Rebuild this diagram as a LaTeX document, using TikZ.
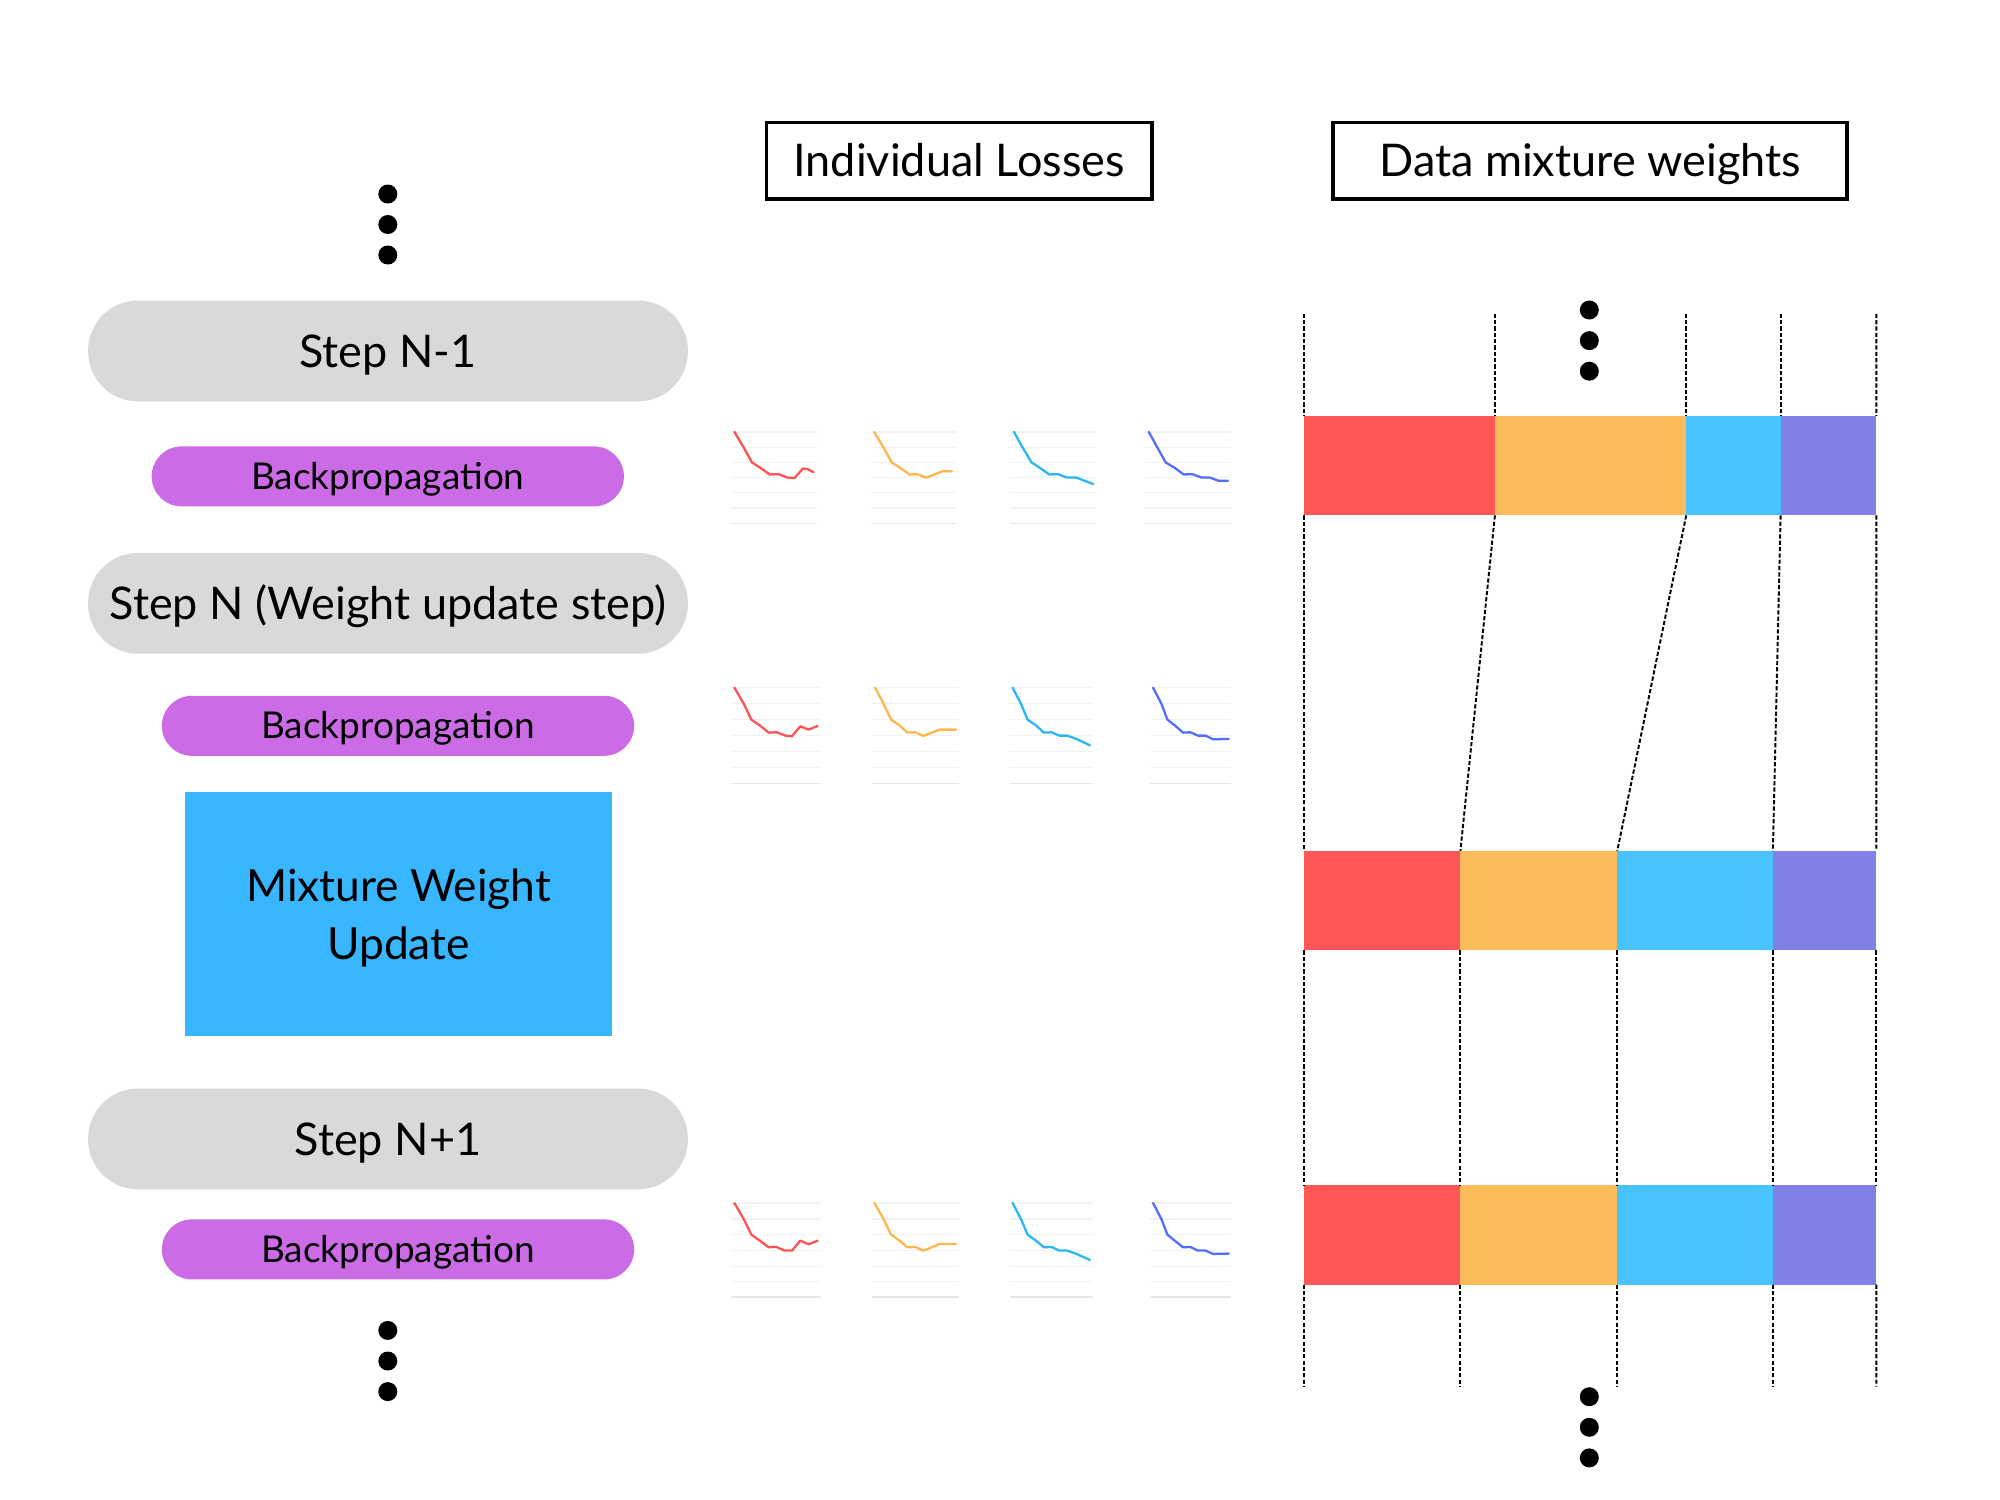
\documentclass[tikz,border=0pt]{standalone}
\usepackage{fontspec}
\setmainfont{Lato}
\definecolor{pillgray}{HTML}{D9D9D9}
\definecolor{bppurple}{HTML}{CB6CE6}
\definecolor{mixblue}{HTML}{38B6FF}
\definecolor{bred}{HTML}{FF5757}
\definecolor{borange}{HTML}{FDBB5A}
\definecolor{bcyan}{HTML}{48C3FF}
\definecolor{bpurple}{HTML}{8080E6}
\definecolor{lred}{HTML}{FF5252}
\definecolor{lorange}{HTML}{FFB74D}
\definecolor{lblue}{HTML}{29B6F6}
\definecolor{lindigo}{HTML}{536DFE}
\definecolor{gridc}{HTML}{F2F2F2}
\definecolor{gridb}{HTML}{E6E6E6}
\begin{document}
\begin{tikzpicture}[x=0.01cm,y=-0.01cm,
  pill/.style={rectangle, rounded corners=0.5cm, fill=pillgray, minimum width=5.995cm, minimum height=1.008cm, inner sep=0pt, font=\fontsize{12.8}{16}\selectfont, text height=9.2pt, text depth=0pt},
  bp/.style={rectangle, rounded corners=0.3cm, fill=bppurple, minimum width=4.72cm, minimum height=0.6cm, inner sep=0pt, font=\fontsize{10.5}{12}\selectfont, text height=7.5pt, text depth=0pt},
  titlebox/.style={rectangle, draw=black, line width=1pt, inner sep=0pt, font=\fontsize{12.8}{16}\selectfont, text height=9.2pt, text depth=0pt},
  mixbox/.style={rectangle, fill=mixblue, minimum width=4.27cm, minimum height=2.436cm, inner sep=0pt},
  mixtext/.style={inner sep=0pt, align=center, font=\fontsize{12.6}{16.4}\selectfont},
  seg/.style={rectangle, inner sep=0pt, outer sep=0pt, anchor=north west, minimum height=0.995cm},
  dotn/.style={circle, fill=black, inner sep=0pt, minimum size=0.19cm},
  dsh/.style={line width=0.55pt, dash pattern=on 1.2pt off 0.6pt},
  gridl/.style={gridc, line width=0.35pt},
  gridbot/.style={gridb, line width=0.45pt},
  lossl/.style={line width=0.65pt, line join=round, line cap=round}
]
\useasboundingbox (0,0) rectangle (2000,1500);

% titles
\node[titlebox, minimum width=3.852cm, minimum height=0.766cm] (tl) at (959.2,160.7) {Individual Losses};
\node[titlebox, minimum width=5.141cm, minimum height=0.766cm] (tw) at (1590,160.7) {Data mixture weights};

% left column
\node[dotn] (ld1) at (387.8,194) {};
\node[dotn] (ld2) at (387.8,224.5) {};
\node[dotn] (ld3) at (387.8,255) {};
\node[pill] (s1) at (388,351) {Step N-1};
\node[bp] (bp1) at (387.8,476.4) {Backpropagation};
\node[pill] (s2) at (388,603.3) {Step N (Weight update step)};
\node[bp] (bp2) at (398,725.8) {Backpropagation};
\node[mixbox] (mw) at (398.6,913.9) {};
\node[mixtext] (mwt) at ([yshift=-0.04cm]mw.center) {Mixture Weight\\Update};
\node[pill] (s3) at (388,1139) {Step N+1};
\node[bp] (bp3) at (398,1249.4) {Backpropagation};
\node[dotn] (ld4) at (387.8,1330.4) {};
\node[dotn] (ld5) at (387.8,1361) {};
\node[dotn] (ld6) at (387.8,1391.6) {};

% right dots
\node[dotn] (rd1) at (1589.3,310) {};
\node[dotn] (rd2) at (1589.3,340.6) {};
\node[dotn] (rd3) at (1589.3,371.2) {};
\node[dotn] (rd4) at (1589.3,1396.7) {};
\node[dotn] (rd5) at (1589.3,1427.3) {};
\node[dotn] (rd6) at (1589.3,1457.9) {};

% bars
\node[seg, fill=bred, minimum width=1.913cm] (b1a) at (1303.6,415.8) {};
\node[seg, fill=borange, minimum width=1.913cm] (b1b) at (1494.9,415.8) {};
\node[seg, fill=bcyan, minimum width=0.944cm] (b1c) at (1686.2,415.8) {};
\node[seg, fill=bpurple, minimum width=0.957cm] (b1d) at (1780.6,415.8) {};

\node[seg, fill=bred, minimum width=1.568cm] (b2a) at (1303.6,850.8) {};
\node[seg, fill=borange, minimum width=1.569cm] (b2b) at (1460.4,850.8) {};
\node[seg, fill=bcyan, minimum width=1.556cm] (b2c) at (1617.3,850.8) {};
\node[seg, fill=bpurple, minimum width=1.034cm] (b2d) at (1772.9,850.8) {};

\node[seg, fill=bred, minimum width=1.568cm] (b3a) at (1303.6,1185) {};
\node[seg, fill=borange, minimum width=1.569cm] (b3b) at (1460.4,1185) {};
\node[seg, fill=bcyan, minimum width=1.556cm] (b3c) at (1617.3,1185) {};
\node[seg, fill=bpurple, minimum width=1.034cm] (b3d) at (1772.9,1185) {};

% dashed guides
\coordinate (t1) at (1303.6,313.8);
\coordinate (t2) at (1494.9,313.8);
\coordinate (t3) at (1686.2,313.8);
\coordinate (t4) at (1780.6,313.8);
\coordinate (t5) at (1876.3,313.8);
\coordinate (u1) at (1303.6,1386.5);
\coordinate (u2) at (1460.4,1386.5);
\coordinate (u3) at (1617.3,1386.5);
\coordinate (u4) at (1772.9,1386.5);
\coordinate (u5) at (1876.3,1386.5);
\draw[dsh] (t1) -- (b1a.north west);
\draw[dsh] (t2) -- (b1b.north west);
\draw[dsh] (t3) -- (b1c.north west);
\draw[dsh] (t4) -- (b1d.north west);
\draw[dsh] (t5) -- (b1d.north east);
\draw[dsh] (b1a.south west) -- (b2a.north west);
\draw[dsh] (b1b.south west) -- (b2b.north west);
\draw[dsh] (b1c.south west) -- (b2c.north west);
\draw[dsh] (b1d.south west) -- (b2d.north west);
\draw[dsh] (b1d.south east) -- (b2d.north east);
\draw[dsh] (b2a.south west) -- (b3a.north west);
\draw[dsh] (b2b.south west) -- (b3b.north west);
\draw[dsh] (b2c.south west) -- (b3c.north west);
\draw[dsh] (b2d.south west) -- (b3d.north west);
\draw[dsh] (b2d.south east) -- (b3d.north east);
\draw[dsh] (b3a.south west) -- (u1);
\draw[dsh] (b3b.south west) -- (u2);
\draw[dsh] (b3c.south west) -- (u3);
\draw[dsh] (b3d.south west) -- (u4);
\draw[dsh] (b3d.south east) -- (u5);

% loss plots row 1
\begin{scope}[shift={(7.2cm,-4.2cm)}, x=0.0033333cm, y=-0.0033333cm]
  \foreach \g in {35,81,127,172,217,264} {
    \draw[gridl] (32,\g) -- (290,\g);
    \draw[gridl] (452,\g) -- (707,\g);
    \draw[gridl] (870,\g) -- (1130,\g);
    \draw[gridl] (1275,\g) -- (1535,\g);
  }
  \draw[gridbot] (32,310) -- (290,310);
  \draw[gridbot] (452,310) -- (707,310);
  \draw[gridbot] (870,310) -- (1130,310);
  \draw[gridbot] (1275,310) -- (1535,310);
  \draw[lossl, lred] (42,35)--(70,82)--(95,127)--(120,143)--(148,163)--(175,162)--(200,172)--(222,174)--(248,145)--(262,147)--(280,156);
  \draw[lossl, lorange] (462,35)--(490,82)--(515,127)--(540,143)--(568,163)--(592,162)--(618,173)--(645,162)--(668,153)--(695,153);
  \draw[lossl, lblue] (882,35)--(908,82)--(935,127)--(960,143)--(988,163)--(1015,162)--(1040,172)--(1068,172)--(1095,182)--(1120,192);
  \draw[lossl, lindigo] (1287,35)--(1313,82)--(1338,127)--(1365,143)--(1392,163)--(1418,162)--(1445,172)--(1470,172)--(1497,182)--(1525,182);
\end{scope}

% loss plots row 2
\begin{scope}[shift={(7.2cm,-6.7cm)}, x=0.0033333cm, y=-0.0033333cm]
  \foreach \g in {52,100,148,196,244,292} {
    \draw[gridl] (32,\g) -- (302,\g);
    \draw[gridl] (455,\g) -- (718,\g);
    \draw[gridl] (870,\g) -- (1120,\g);
    \draw[gridl] (1290,\g) -- (1535,\g);
  }
  \draw[gridbot] (32,340) -- (302,340);
  \draw[gridbot] (455,340) -- (718,340);
  \draw[gridbot] (870,340) -- (1120,340);
  \draw[gridbot] (1290,340) -- (1535,340);
  \draw[lossl, lred] (42,52)--(70,100)--(93,148)--(118,165)--(145,187)--(170,186)--(195,196)--(215,198)--(240,168)--(265,178)--(292,167);
  \draw[lossl, lorange] (465,52)--(490,100)--(513,148)--(538,165)--(562,187)--(585,186)--(610,197)--(635,187)--(658,178)--(708,178);
  \draw[lossl, lblue] (878,52)--(903,100)--(923,148)--(948,165)--(972,187)--(995,186)--(1018,196)--(1042,196)--(1070,206)--(1110,225);
  \draw[lossl, lindigo] (1300,52)--(1325,100)--(1343,148)--(1365,165)--(1390,187)--(1412,186)--(1435,196)--(1458,196)--(1480,207)--(1527,206);
\end{scope}

% loss plots row 3
\begin{scope}[shift={(7.2cm,-11.9cm)}, x=0.0033333cm, y=-0.0033333cm]
  \foreach \g in {37,85,132,180,227,273} {
    \draw[gridl] (32,\g) -- (302,\g);
    \draw[gridl] (455,\g) -- (718,\g);
    \draw[gridl] (870,\g) -- (1120,\g);
    \draw[gridl] (1290,\g) -- (1535,\g);
  }
  \draw[gridbot] (32,320) -- (302,320);
  \draw[gridbot] (455,320) -- (718,320);
  \draw[gridbot] (870,320) -- (1120,320);
  \draw[gridbot] (1290,320) -- (1535,320);
  \draw[lossl, lred] (42,37)--(70,85)--(93,132)--(118,150)--(145,170)--(168,169)--(193,180)--(215,180)--(240,150)--(265,161)--(292,150);
  \draw[lossl, lorange] (463,37)--(490,85)--(513,132)--(538,150)--(562,170)--(585,169)--(610,180)--(635,170)--(658,160)--(708,160);
  \draw[lossl, lblue] (878,37)--(903,85)--(923,132)--(948,150)--(972,170)--(995,169)--(1018,180)--(1042,180)--(1070,190)--(1110,208);
  \draw[lossl, lindigo] (1300,37)--(1325,85)--(1343,132)--(1365,150)--(1390,170)--(1412,169)--(1435,180)--(1458,180)--(1480,190)--(1527,189);
\end{scope}
\end{tikzpicture}
\end{document}
